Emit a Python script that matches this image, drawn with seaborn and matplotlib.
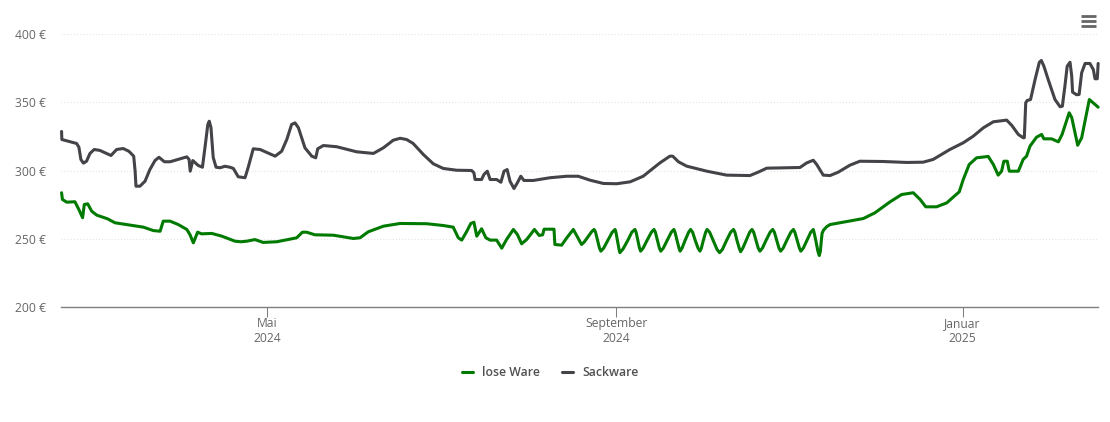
import pandas as pd
import seaborn as sns
import matplotlib.pyplot as plt
from matplotlib.lines import Line2D

start = pd.Timestamp('2024-02-18 12:00')
end = start + pd.Timedelta(days=365.15)

# days since start / price in euro
lose_days = [0.2, 0.5, 2, 4.9, 6.3, 7.6, 8.2, 9.4, 10.8, 12.6, 16.4, 19, 23.1, 29, 32.5, 34.9, 36, 38.4, 41.3, 44.3, 45.4, 46.6, 48.1, 49.5, 53.1, 56.6, 61.3, 63.4, 65.4, 68.3, 71.2, 76, 83, 85, 86.5, 89.4, 95.9, 102.9, 105.3, 108.2, 113.5, 119.4, 128.8, 134.6, 138.1, 139.9, 141.1, 142.9, 144.3, 145.4, 146.4, 148.1, 149.6, 151.1, 153.4, 155.2, 156.9, 159.3, 160.7, 162.2, 164, 166.7, 168.4, 169.6, 170.1, 173.6, 173.9, 176.3, 178.1, 180.4,
             183.3, 184.2, 185.5, 186.8, 187.7, 188.2, 188.9, 189.6, 190.1, 191.1, 192.6, 194.1, 195.1, 195.4, 195.95, 196.5, 196.8, 197.9, 199.5, 201, 202.1, 202.5, 203.1, 203.7, 204.1, 205, 206.4, 207.9, 208.8, 209.3, 210, 210.7, 211.2, 212.1, 213.5, 214.9, 215.8, 216.2, 216.9, 217.6, 218, 218.7, 219.8, 221, 221.7, 222.4, 223.3, 224.3, 225, 225.5, 226.2, 227, 227.5, 228.4, 229.7, 231, 231.9, 232.9, 234.3, 235.8, 236.8, 237.3, 238, 238.8, 239.3, 240.1, 241.3, 242.5, 243.3, 243.9, 244.7, 245.5, 246.1, 247, 248.3, 249.7, 250.6, 251.2, 252, 252.8, 253.4, 254.3, 255.6, 257, 257.9, 258.4, 259.2, 260, 260.5, 261.4, 262.7, 264, 264.9, 265.3, 265.9, 266.5, 267, 267.4, 267.7, 268, 268.5,
             269.6, 270.8, 274.3, 282.5, 286.6, 291.9, 296, 300.1, 302.5, 304.5, 308.3, 311.9, 316.3, 317.7, 319.8, 322.4, 326.5, 328.3, 330, 331.2, 332, 333.2, 333.9, 337.1, 338.8, 340, 341.2, 343.5, 345.3, 346.1, 348.8, 351.2, 352.5, 355, 355.9, 358, 359.4, 362.1, 365.2]
lose_eur = [283.7, 278.8, 276.8, 277.1, 271.4, 265.4, 275.1, 275.6, 270.2, 267.3, 264.6, 261.7, 260.4, 258.5, 256, 255.5, 262.9, 262.9, 260.4, 256.8, 253.1, 247, 254.8, 253.6, 253.9, 251.9, 248.2, 247.8, 248.2, 249.4, 247.3, 247.8, 250.7, 254.8, 254.8, 252.9, 252.6, 250.2, 250.7, 255.1, 259.2, 261.2, 261, 259.7, 258.5, 250.7, 249, 255.5, 261.2, 262.1, 251.9, 257.3, 250.7, 249, 249, 243.1, 249.5, 256.8, 253.1, 246.3, 249.5, 256.8, 252.4, 252.9, 257, 257, 245.8, 245.3, 250.7, 256.8,
            245.8, 247.5, 251.3, 255, 256.8, 255, 249, 243.2, 240.9, 243.2, 249, 254.8, 256.8, 254.8, 248.5, 242.2, 239.8, 242.5, 248.5, 254.8, 256.8, 254.8, 249, 243.2, 240.9, 243.2, 249, 254.8, 256.8, 254.8, 249, 243.2, 240.9, 243.2, 249, 254.8, 256.8, 254.8, 249, 243.2, 240.9, 243.2, 249, 254.8, 256.8, 254.8, 249, 243.2, 240.9, 243.2, 249, 254.8, 256.8, 254.8, 248.5, 242.2, 239.8, 242.2, 248.5, 254.8, 256.8, 254.8, 249, 243.2, 240.5, 243.2, 249, 254.8, 256.8, 254.8, 249, 243.2, 240.9, 243.2, 249, 254.8, 256.8, 254.8, 249, 243.2, 240.9, 243.2, 249, 254.8, 256.8, 254.8, 249, 243.2, 240.9, 243.2, 249, 254.8, 256.8, 253.5, 247.5, 241, 237.7, 241, 248, 254, 256.3,
            258.8, 260.4, 261.7, 264.8, 269, 277, 282.4, 283.7, 278.8, 273.4, 273.4, 276.3, 284.4, 293.4, 304.4, 309.3, 310.3, 304.4, 296.6, 299.5, 306.8, 306.8, 299.5, 299.5, 308.1, 310.5, 317.8, 324.4, 326.4, 323.2, 323.2, 321, 326.4, 342.3, 338.8, 318.5, 324, 352, 346.4]

sack_days = [0.2, 0.3, 2.5, 5.5, 6.3, 7, 7.9, 9, 10.2, 11.7, 13.7, 17.6, 19.6, 21.9, 23.9, 25.6, 26.1, 26.4, 27.8, 29.6, 31.3, 33.1, 34.5, 36.4, 38.4, 44.3, 45.1, 45.5, 46.4, 48.3, 49.8, 50.7, 51.7, 52.2, 52.8, 53.6, 54.6, 56, 57.7, 59.5, 60.7, 62.4, 64.8, 65.9, 67.7, 70.1, 75.4, 77.7, 79.5, 81.2, 82.4, 83.6, 85.9, 88.3, 89.7, 90.4, 92.4, 97.1, 104.1, 110, 113.5, 117, 119.4, 121.7, 124, 127.6, 131.1, 134.6, 139.3, 144.6, 145.4, 145.8, 148.1, 148.9, 150.1, 151.1, 153.4, 154.9, 156, 157.1, 158.1, 159.5, 160.7, 161.9, 163, 166.3, 172.2, 178.1, 182.1, 186.3, 191, 195.7, 200.4, 205, 210.9, 214.4, 215.4, 217.4, 220.3, 227.4, 234.4, 242.6, 245.5, 248.5, 260.2, 262.6, 264.9, 266.1, 268.4, 270.8, 273.7, 277.8, 281.3, 289.4, 297.8, 303.6, 307.1, 313, 317.7, 321.2, 324.8, 328.3, 333, 334.8, 337.1, 338.8, 339.2, 339.7, 340.2, 341.4, 343, 344.5, 345.2, 346.1, 347.6, 350, 351.8, 352.6, 353.5, 354.3, 355.3, 355.9, 356.2, 357.6, 358.5, 359.4, 360.6, 362.3, 363.5, 364.1, 364.9, 365.2]
sack_eur = [328.6, 322.7, 321.5, 319.8, 317.1, 308.1, 305.4, 306.8, 312.5, 315.4, 314.7, 311, 315.4, 316.1, 314.1, 310.5, 299.5, 288.5, 288.5, 292.2, 300.7, 307.3, 309.7, 306.4, 306.4, 310, 308.1, 299.5, 307.3, 303.7, 302.4, 316.9, 333.7, 336.1, 331.5, 309.5, 302.4, 302, 303.1, 302.4, 301.5, 295.4, 294.7, 302.2, 315.9, 315.4, 310.5, 314.1, 322.7, 333.7, 334.9, 331.3, 316.6, 310.5, 309.3, 315.9, 318.3, 317.4, 313.7, 312.5, 316.6, 322.2, 323.6, 322.7, 319.8, 311.7, 304.9, 301.5, 300.2, 300, 298.3, 293.4, 293.4, 297, 299.5, 293.4, 293.4, 291.4, 299.5, 300.7, 292.2, 286.8, 291, 295.8, 292.7, 292.7, 294.7, 295.8, 295.8, 292.9, 290.5, 290.3, 291.7, 295.8, 305.6, 310.5, 310.5, 306.4, 303.2, 299.5, 296.6, 296.3, 298.8, 301.7, 302.2, 305.6, 307.5, 304.4, 296.6, 296.3, 298.8, 303.9, 306.8, 306.6, 305.9, 306.1, 308.1, 315.4, 320.3, 325.1, 331.3, 335.7, 336.9, 333, 326.4, 324, 324, 349.6, 351.3, 352, 366.7, 379.3, 380.6, 376.4, 366.7, 352, 346.7, 347.1, 361.8, 376.4, 379.3, 369.1, 357.4, 355.5, 355.7, 371.6, 378.4, 378.4, 374, 367.2, 367.2, 378.4]

y_ticks = [200, 250, 300, 350, 400]
x_ticks = ['2024-05-01', '2024-09-01', '2025-01-01']
x_labels = ['Mai\n2024', 'September\n2024', 'Januar\n2025']

lose = pd.DataFrame({'tag': start + pd.to_timedelta(lose_days, unit='D'), 'preis': lose_eur, 'sorte': 'lose Ware'})
sack = pd.DataFrame({'tag': start + pd.to_timedelta(sack_days, unit='D'), 'preis': sack_eur, 'sorte': 'Sackware'})
df = pd.concat([lose, sack], ignore_index=True)

sns.set_theme(style='white')
plt.rcParams['font.family'] = ['Open Sans', 'DejaVu Sans']

fig = plt.figure(figsize=(11.1, 4.22), dpi=100)
ax = fig.add_axes([61 / 1110, (422 - 307) / 422, 1037 / 1110, 273 / 422])

sns.lineplot(data=df, x='tag', y='preis', hue='sorte', palette={'lose Ware': '#007a00', 'Sackware': '#434348'},
             estimator=None, sort=False, linewidth=2.2, ax=ax, zorder=3, clip_on=False)
for line in ax.get_lines():
    line.set_solid_joinstyle('round')

ax.set_xlim(start, end)
ax.set_ylim(200, 400)
ax.set_xlabel('')
ax.set_ylabel('')

ax.set_yticks(y_ticks)
ax.set_yticklabels([f'{v} €' for v in y_ticks])
ax.set_xticks(pd.to_datetime(x_ticks))
ax.set_xticklabels(x_labels, linespacing=1.25)
ax.tick_params(axis='y', length=0, pad=11, labelsize=8.7, labelcolor='#666666')
ax.tick_params(axis='x', length=7, width=0.75, color='#7f7f7f', pad=0, bottom=True, labelsize=8.7, labelcolor='#666666')

ax.grid(axis='y', color='#e2e2e2', linewidth=0.75, linestyle=(0, (1, 2)))
ax.set_axisbelow(True)
for side in ['top', 'left', 'right']:
    ax.spines[side].set_visible(False)
ax.spines['bottom'].set_color('#7f7f7f')
ax.spines['bottom'].set_linewidth(1)

handles, labels = ax.get_legend_handles_labels()
leg = ax.legend(handles, labels, loc='center', bbox_to_anchor=(550 / 1110, (422 - 373) / 422),
                bbox_transform=fig.transFigure, ncols=2, frameon=False, fontsize=8.8,
                handlelength=0.95, handletextpad=0.7, columnspacing=1.8, borderpad=0)
for t in leg.get_texts():
    t.set_color('#333333')
    t.set_fontweight('semibold')
    t.set_alpha(0.85)

# hamburger menu top right
for py in [16, 21, 26]:
    fig.add_artist(Line2D([1080.5 / 1110, 1096 / 1110], [(422 - py) / 422] * 2, color='#666666', linewidth=2, solid_capstyle='butt'))

fig.savefig('out.png', dpi=100)
